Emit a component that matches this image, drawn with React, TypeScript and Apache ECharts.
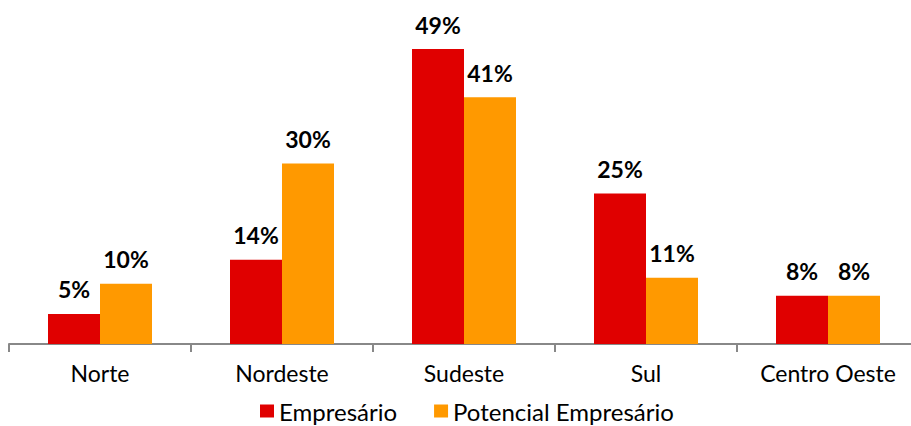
import React, { useEffect, useRef } from "react";
import * as echarts from "echarts";

const categories = ["Norte", "Nordeste", "Sudeste", "Sul", "Centro Oeste"];
const empresario = [5, 14, 49, 25, 8];
const potencial = [10, 30, 41, 11, 8];
const seriesNames = ["Empresário", "Potencial Empresário"];

export default function App() {
  const ref = useRef<HTMLDivElement>(null);
  useEffect(() => {
    if (!ref.current) return;
    const chart = echarts.init(ref.current, null, { renderer: "svg" });
    const label = {
      show: true,
      position: "top" as const,
      distance: 13,
      formatter: "{c}%",
      color: "#000",
      fontWeight: "bold" as const,
      fontSize: 23,
      fontFamily: "Lato",
    };
    chart.setOption({
      animation: false,
      textStyle: { fontFamily: "Lato" },
      grid: { left: 9, right: 0, top: 43, bottom: 82, containLabel: false },
      legend: {
        top: 399,
        left: 260,
        padding: 0,
        itemWidth: 14,
        itemHeight: 13,
        itemGap: 37,
        icon: "rect",
        textStyle: { fontSize: 24, color: "#000", fontFamily: "Lato" },
        data: seriesNames,
      },
      xAxis: {
        type: "category",
        data: categories,
        axisLine: { lineStyle: { color: "#888", width: 2 } },
        axisTick: { show: true, length: 8, lineStyle: { color: "#888", width: 2 } },
        axisLabel: { fontSize: 23, color: "#000", margin: 17, fontFamily: "Lato" },
      },
      yAxis: {
        type: "value",
        min: 0,
        max: 50,
        show: false,
        splitLine: { show: false },
      },
      series: [
        {
          name: seriesNames[0],
          type: "bar",
          data: empresario,
          barWidth: 52,
          barGap: "0%",
          itemStyle: { color: "#E00000" },
          label,
        },
        {
          name: seriesNames[1],
          type: "bar",
          data: potencial,
          barWidth: 52,
          itemStyle: { color: "#FF9900" },
          label,
        },
      ],
    });
    return () => chart.dispose();
  }, []);
  return (
    <div style={{ width: 911, height: 426, position: "absolute", left: 0, top: 0, overflow: "hidden" }}>
      <div ref={ref} style={{ width: 919, height: 426 }} />
    </div>
  );
}
